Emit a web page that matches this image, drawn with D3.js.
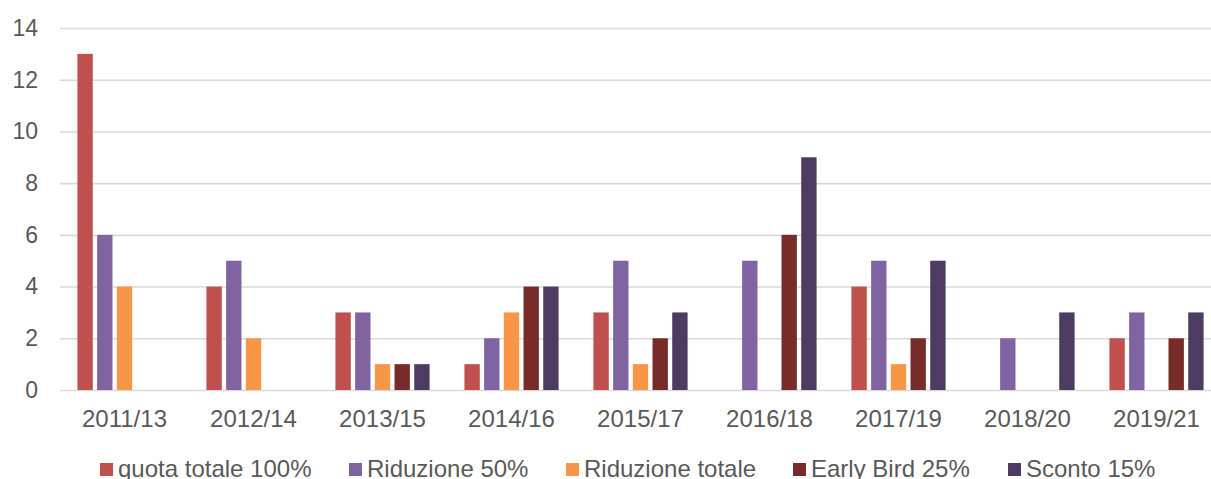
<!DOCTYPE html>
<html>
<head>
<meta charset="utf-8">
<script src="https://cdn.jsdelivr.net/npm/d3@7"></script>
<style>
  body { margin: 0; background: #fff; }
  svg { display: block; font-family: "Liberation Sans", Arial, sans-serif; }
</style>
</head>
<body>
<div id="chart"></div>
<script>
// Data
var categories = ["2011/13", "2012/14", "2013/15", "2014/16", "2015/17", "2016/18", "2017/19", "2018/20", "2019/21"];
var seriesNames = ["quota totale 100%", "Riduzione 50%", "Riduzione totale", "Early Bird 25%", "Sconto 15%"];
var quotaTotale = [13, 4, 3, 1, 3, 0, 4, 0, 2];
var riduzione50 = [6, 5, 3, 2, 5, 5, 5, 2, 3];
var riduzioneTotale = [4, 2, 1, 3, 1, 0, 1, 0, 0];
var earlyBird = [0, 0, 1, 4, 2, 6, 2, 0, 2];
var sconto15 = [0, 0, 1, 4, 3, 9, 5, 3, 3];
var yTicks = [0, 2, 4, 6, 8, 10, 12, 14];

var seriesValues = [quotaTotale, riduzione50, riduzioneTotale, earlyBird, sconto15];
var colors = ["#C0504D", "#8064A2", "#F79646", "#772C2A", "#4D3B62"];

// SVG attributes
var width = 1211;
var height = 479;
var textColor = "#595959";

var svg = d3.select("#chart")
    .append("svg")
    .attr("width", width)
    .attr("height", height);

// Scales
var x0 = d3.scaleBand()
    .domain(categories)
    .range([60, 1221])
    .paddingInner(0.27)
    .paddingOuter(0.135);

var x1 = d3.scaleBand()
    .domain(seriesNames)
    .range([0, x0.bandwidth()])
    .paddingInner(0.22)
    .paddingOuter(0);

var y = d3.scaleLinear()
    .domain([0, 14])
    .range([390, 28]);

// Gridlines + y labels
var yAxis = d3.axisLeft(y)
    .tickValues(yTicks)
    .tickSize(-(width - 60))
    .tickPadding(22);

var gy = svg.append("g")
    .attr("transform", "translate(60,0)")
    .call(yAxis);
gy.select(".domain").remove();
gy.selectAll(".tick line")
    .attr("stroke", "#D9D9D9")
    .attr("stroke-width", 1.6);
gy.selectAll(".tick text")
    .attr("fill", textColor)
    .attr("font-size", 23)
    .attr("font-family", "Liberation Sans, Arial, sans-serif");

// Bars
var rows = categories.map(function(c, i) {
  return { cat: c, values: seriesNames.map(function(s, j) {
    return { name: s, value: seriesValues[j][i], color: colors[j] };
  }) };
});

var groups = svg.selectAll("g.group")
    .data(rows)
    .enter()
    .append("g")
    .attr("class", "group")
    .attr("transform", function(d) { return "translate(" + x0(d.cat) + ",0)"; });

groups.selectAll("rect")
    .data(function(d) { return d.values.filter(function(v) { return v.value > 0; }); })
    .enter()
    .append("rect")
    .attr("x", function(d) { return x1(d.name); })
    .attr("y", function(d) { return y(d.value); })
    .attr("width", x1.bandwidth())
    .attr("height", function(d) { return y(0) - y(d.value); })
    .attr("fill", function(d) { return d.color; });

// Category labels
svg.append("g")
    .selectAll("text")
    .data(categories)
    .enter()
    .append("text")
    .attr("x", function(d) { return x0(d) + x0.bandwidth() / 2; })
    .attr("y", 427)
    .attr("text-anchor", "middle")
    .attr("fill", textColor)
    .attr("font-size", 24)
    .text(function(d) { return d; });

// Legend
var legendX = [100, 349, 566, 793, 1008];
var legend = svg.append("g")
    .selectAll("g")
    .data(seriesNames)
    .enter()
    .append("g")
    .attr("transform", function(d, i) { return "translate(" + legendX[i] + ",463)"; });

legend.append("rect")
    .attr("width", 13)
    .attr("height", 13)
    .attr("fill", function(d, i) { return colors[i]; });

legend.append("text")
    .attr("x", 18)
    .attr("y", 14)
    .attr("fill", textColor)
    .attr("font-size", 24)
    .text(function(d) { return d; });
</script>
</body>
</html>
